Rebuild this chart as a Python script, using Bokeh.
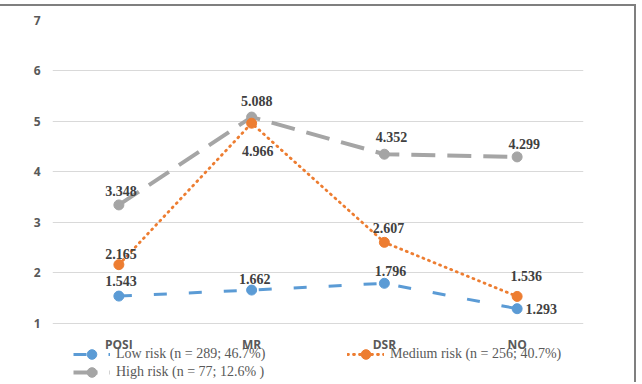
from bokeh.plotting import figure
from bokeh.models import (Range1d, FactorRange, Legend, LegendItem, ColumnDataSource,
                          FixedTicker)
from bokeh.core.properties import value
from bokeh.embed import file_html
from bokeh.resources import INLINE

categories = ["POSI", "MR", "DSR", "NO"]
low_risk = [1.543, 1.662, 1.796, 1.293]
medium_risk = [2.165, 4.966, 2.607, 1.536]
high_risk = [3.348, 5.088, 4.352, 4.299]
names = ["Low risk (n = 289; 46.7%)", "Medium risk (n = 256; 40.7%)", "High risk (n = 77; 12.6% )"]
y_ticks = [1, 2, 3, 4, 5, 6, 7]

# label placement (screen px offsets) per series
low_off = [(2, -15), (3, -11), (6, -12), (24, 0)]
med_off = [(2, -11), (6, 28), (4, -14), (9, -20)]
high_off = [(2, -14), (5, -16), (7, -17), (7, -13)]

BLUE, ORANGE, GRAY = "#5B9BD5", "#ED7D31", "#A5A5A5"

# frame runs to the bottom of the canvas; the x axis sits at y = 1
p = figure(width=636, height=378, x_range=FactorRange(*categories),
           y_range=Range1d(-0.208, 7),
           output_backend="svg", toolbar_location=None,
           min_border_left=52, min_border_right=53, min_border_top=14, min_border_bottom=0)
p.styles = {"border-top": "2px solid #7F7F7F", "border-right": "2px solid #7F7F7F",
            "margin-top": "4px"}
p.outline_line_color = None
p.background_fill_color = "white"
p.border_fill_alpha = 0

p.xgrid.grid_line_color = None
p.ygrid.grid_line_color = "#D9D9D9"
p.ygrid.grid_line_width = 1
p.yaxis.ticker = FixedTicker(ticks=y_ticks)
p.xaxis.fixed_location = 1
for ax in (p.xaxis[0], p.yaxis[0]):
    ax.axis_line_color = None
    ax.major_tick_line_color = None
    ax.minor_tick_line_color = None
    ax.major_tick_out = 0
    ax.major_tick_in = 0
    ax.major_label_text_font = "Open Sans"
    ax.major_label_text_font_style = "bold"
    ax.major_label_text_color = "#595959"
    ax.major_label_text_font_size = "12px"
p.yaxis.major_label_standoff = 12
p.xaxis.major_label_standoff = 13

def series(vals, color, dash, width, offs, cap="butt"):
    src = ColumnDataSource(dict(x=categories, y=vals,
                                t=["%.3f" % v for v in vals],
                                dx=[o[0] for o in offs], dy=[o[1] for o in offs]))
    ln = p.line("x", "y", source=src, line_color=color, line_width=width, line_dash=dash,
                line_cap=cap)
    sc = p.scatter("x", "y", source=src, size=10, fill_color=color, line_color=color)
    p.text("x", "y", text="t", source=src, x_offset="dx", y_offset="dy",
           text_font=value("Liberation Serif"), text_font_style="bold",
           text_font_size="14px", text_color="#404040",
           text_align="center", text_baseline="middle")
    return [ln, sc]

r_low = series(low_risk, BLUE, "13 22", 3, low_off)
r_high = series(high_risk, GRAY, "24 12", 4, high_off)
r_med = series(medium_risk, ORANGE, "1 5", 2.8, med_off, cap="round")

leg_style = dict(background_fill_alpha=0, border_line_color=None, padding=0, margin=0,
                 glyph_width=37, glyph_height=24, label_height=14, label_standoff=6,
                 label_text_font="Liberation Serif", label_text_font_size="14px",
                 label_text_color="#595959")

for label, rends, loc in [(names[0], r_low, (21, 18)),
                          (names[1], r_med, (295, 18)),
                          (names[2], r_high, (21, 0))]:
    p.add_layout(Legend(items=[LegendItem(label=label, renderers=rends)],
                        location=loc, **leg_style), "center")

open("out.html", "w").write(file_html(p, INLINE))
